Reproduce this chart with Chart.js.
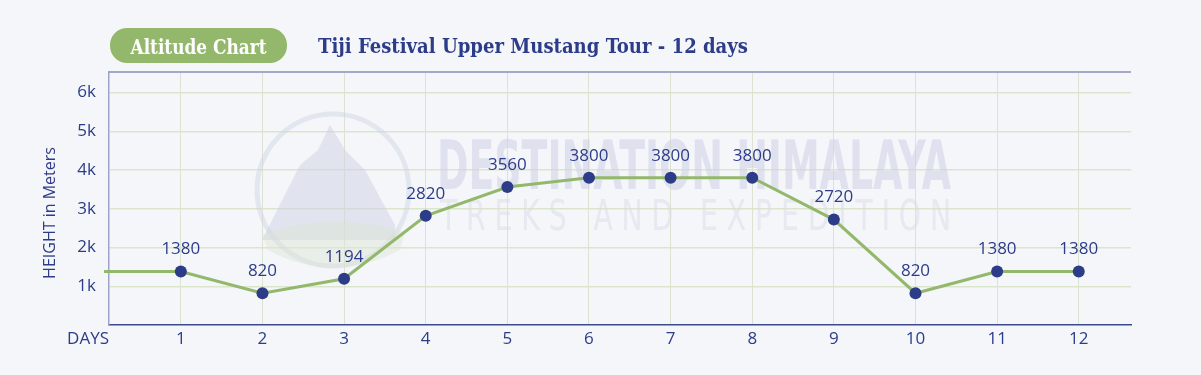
<!DOCTYPE html>
<html><head><meta charset="utf-8">
<script src="https://cdn.jsdelivr.net/npm/chart.js@4/dist/chart.umd.min.js"></script>
<style>html,body{margin:0;padding:0;background:#f4f6fa;overflow:hidden}#wrap{width:1201px;height:375px}</style>
</head><body><div id="wrap"><canvas id="c" width="1201" height="375"></canvas></div>
<script>
const DAYS = [1, 2, 3, 4, 5, 6, 7, 8, 9, 10, 11, 12];
const ALTITUDES = [1380, 820, 1194, 2820, 3560, 3800, 3800, 3800, 2720, 820, 1380, 1380];
const LEAD_IN_DAY = 0;
const LEAD_IN_ALTITUDE = 1380;
const Y_TICKS = [1000, 2000, 3000, 4000, 5000, 6000];
const BADGE_TEXT = 'Altitude Chart';
const TITLE_TEXT = 'Tiji Festival Upper Mustang Tour - 12 days';
const X_AXIS_LABEL = 'DAYS';
const Y_AXIS_LABEL = 'HEIGHT in Meters';
const WATERMARK_1 = 'DESTINATION HIMALAYA';
const WATERMARK_2 = 'T R E K S   A N D   E X P E D I T I O N';

const BLUE = '#2c3c88';
const GREEN = '#93b86b';
const SANS = '"Open Sans", "Noto Sans", sans-serif';
const SERIF = '"DejaVu Serif Condensed", "DejaVu Serif", serif';

const points = [{x: LEAD_IN_DAY, y: LEAD_IN_ALTITUDE}].concat(DAYS.map((d, i) => ({x: d, y: ALTITUDES[i]})));

const decor = {
  id: 'decor',
  beforeDraw(chart) {
    const ctx = chart.ctx;
    ctx.save();
    ctx.fillStyle = '#f4f6fa';
    ctx.fillRect(0, 0, chart.width, chart.height);
    ctx.restore();
  },
  beforeDatasetsDraw(chart) {
    const ctx = chart.ctx;
    ctx.save();
    ctx.strokeStyle = 'rgba(205,210,225,0.45)';
    ctx.lineWidth = 5;
    ctx.beginPath();
    ctx.arc(333, 190, 76, 0, Math.PI * 2);
    ctx.stroke();
    ctx.fillStyle = 'rgba(205,210,226,0.5)';
    ctx.beginPath();
    ctx.moveTo(262, 240); ctx.lineTo(300, 165); ctx.lineTo(318, 150); ctx.lineTo(330, 125);
    ctx.lineTo(345, 150); ctx.lineTo(365, 170); ctx.lineTo(395, 225); ctx.lineTo(395, 240);
    ctx.closePath(); ctx.fill();
    ctx.fillStyle = 'rgba(220,228,210,0.45)';
    ctx.beginPath();
    ctx.moveTo(262, 235); ctx.quadraticCurveTo(330, 210, 405, 232);
    ctx.lineTo(400, 250); ctx.quadraticCurveTo(333, 285, 268, 250); ctx.closePath(); ctx.fill();
    ctx.fillStyle = 'rgba(205,210,228,0.55)';
    ctx.font = 'bold 68px "DejaVu Sans Condensed", "DejaVu Sans", sans-serif';
    ctx.textBaseline = 'alphabetic';
    ctx.textAlign = 'left';
    ctx.fillText(WATERMARK_1, 437, 189, 514);
    ctx.fillStyle = 'rgba(215,220,230,0.5)';
    ctx.font = '42px "DejaVu Sans Condensed", "DejaVu Sans", sans-serif';
    ctx.fillText(WATERMARK_2, 440, 230, 511);
    ctx.restore();
  },
  afterDatasetsDraw(chart) {
    const ctx = chart.ctx;
    const meta = chart.getDatasetMeta(0);
    ctx.save();
    ctx.fillStyle = BLUE;
    ctx.font = '500 17px ' + SANS;
    ctx.textAlign = 'center';
    ctx.textBaseline = 'middle';
    meta.data.forEach((el, i) => {
      if (i === 0) return;
      ctx.fillText(String(ALTITUDES[i - 1]), el.x, el.y - 22);
    });
    ctx.restore();
  },
  afterDraw(chart) {
    const ctx = chart.ctx;
    const a = chart.chartArea;
    ctx.save();
    ctx.strokeStyle = '#8a8fbd';
    ctx.lineWidth = 1.5;
    ctx.beginPath();
    ctx.moveTo(a.left, a.top); ctx.lineTo(a.right, a.top);
    ctx.stroke();
    ctx.fillStyle = GREEN;
    ctx.beginPath();
    ctx.roundRect(110, 28, 177, 35, 17);
    ctx.fill();
    ctx.fillStyle = '#ffffff';
    ctx.font = 'bold 21px ' + SERIF;
    ctx.textAlign = 'center';
    ctx.textBaseline = 'alphabetic';
    ctx.fillText(BADGE_TEXT, 198.5, 54, 136);
    ctx.fillStyle = BLUE;
    ctx.textAlign = 'left';
    ctx.fillText(TITLE_TEXT, 318, 53, 430);
    ctx.font = '500 17px ' + SANS;
    ctx.textAlign = 'right';
    ctx.textBaseline = 'middle';
    ctx.fillText(X_AXIS_LABEL, 109, 339);
    ctx.translate(50, 213);
    ctx.rotate(-Math.PI / 2);
    ctx.textAlign = 'center';
    ctx.font = '500 16px ' + SANS;
    ctx.fillText(Y_AXIS_LABEL, 0, 0);
    ctx.restore();
  }
};

new Chart(document.getElementById('c'), {
  type: 'line',
  data: {
    datasets: [{
      data: points,
      borderColor: GREEN,
      borderWidth: 3,
      pointBackgroundColor: BLUE,
      pointBorderColor: BLUE,
      pointRadius: points.map((p, i) => i === 0 ? 0 : 6),
      pointBorderWidth: 0,
      tension: 0,
      clip: {left: 5, right: 0, top: 30, bottom: 0}
    }]
  },
  options: {
    responsive: false,
    animation: false,
    devicePixelRatio: 1,
    layout: {padding: {top: 72, right: 70, left: 0, bottom: 0}},
    plugins: {legend: {display: false}, tooltip: {enabled: false}, title: {display: false}},
    scales: {
      x: {
        type: 'linear',
        min: 0.12,
        max: 12.64,
        afterFit(s) { s.height = 50; },
        afterBuildTicks(s) { s.ticks = DAYS.map(v => ({value: v})); },
        ticks: {color: BLUE, font: {family: SANS, size: 17, weight: '500'}, padding: 4, callback: v => String(v)},
        grid: {color: '#dde3d2', lineWidth: 1, drawTicks: false},
        border: {color: '#3c4a8c', width: 1.5}
      },
      y: {
        min: 0,
        max: 6530,
        afterFit(s) { s.width = 109; },
        afterBuildTicks(s) { s.ticks = Y_TICKS.map(v => ({value: v})); },
        ticks: {color: BLUE, font: {family: SANS, size: 17, weight: '500'}, padding: 13, callback: v => (v / 1000) + 'k'},
        grid: {color: '#dbe5cc', lineWidth: 1.5, drawTicks: false},
        border: {color: '#9ea3cc', width: 1.5}
      }
    }
  },
  plugins: [decor]
});
</script></body></html>
